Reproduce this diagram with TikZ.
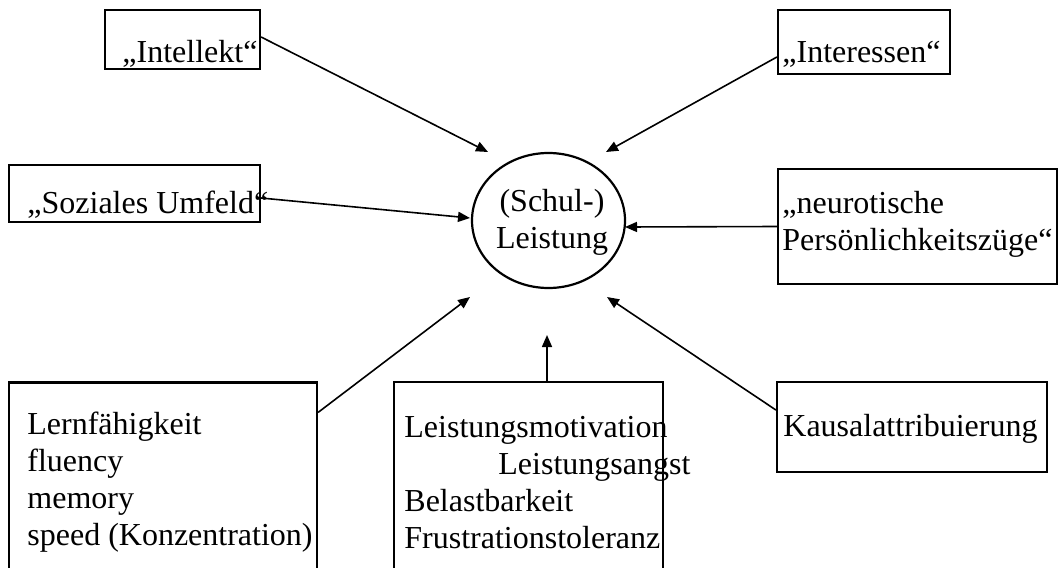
\documentclass[tikz,border=0pt]{standalone}
\usepackage{fontspec}
\setmainfont{Liberation Serif}
\usetikzlibrary{arrows.meta}
\begin{document}
\begin{tikzpicture}[x=0.5pt,y=-0.5pt,
  box/.style={draw, line width=1.1pt, inner sep=0pt, rectangle},
  txt/.style={anchor=base west, inner sep=0pt, align=left,
    font=\fontsize{16pt}{18.4pt}\selectfont},
  arr/.style={line width=0.8pt, -{Triangle[length=6pt,width=5pt]}}]
\clip (0,0) rectangle (1058,567);
\fill[white] (0,0) rectangle (1058,567);
% boxes
\node[box, minimum width=77.5pt, minimum height=29.5pt] (intel) at (182.5,39.5) {};
\node[box, minimum width=86pt, minimum height=32pt] (interest) at (864,42) {};
\node[box, minimum width=125.5pt, minimum height=28.5pt] (sozial) at (134.5,193.5) {};
\node[box, minimum width=139.5pt, minimum height=57.5pt] (neuro) at (917.5,226.5) {};
\node[box, minimum width=154pt, minimum height=108.5pt] (lernbox) at (163,491) {};
\node[box, minimum width=134.5pt, minimum height=109pt] (midbox) at (528.5,491) {};
\node[box, minimum width=135pt, minimum height=45pt] (kausal) at (912,427) {};
% centre ellipse
\draw[line width=1.1pt] (548.5,220.5) ellipse [x radius=76.5, y radius=67.5];
\node[txt, anchor=base, align=center] (leist) at (552,248) {(Schul-)\\Leistung};
% texts
\node[txt] (tintel) at (122,62) {„Intellekt“};
\node[txt] (tinter) at (782,63) {„Interessen“};
\node[txt] (tsoz) at (27,213) {„Soziales Umfeld“};
\node[txt] (tneuro) at (782,250) {„neurotische\\Persönlichkeitszüge“};
\node[txt] (tlern) at (27,545) {Lernfähigkeit\\fluency\\memory\\speed (Konzentration)};
\node[txt] (tmid) at (404,548) {Leistungsmotivation\\\hspace*{47pt}Leistungsangst\\Belastbarkeit\\Frustrationstoleranz};
\node[txt] (tkaus) at (783,436) {Kausalattribuierung};
% arrow tips
\coordinate (tI) at (488,152);
\coordinate (tR) at (606,152);
\coordinate (tS) at (470,218);
\coordinate (tN) at (625,227);
\coordinate (tL) at (470,297);
\coordinate (tM) at (547,335);
\coordinate (tK) at (607,297);
% arrows
\draw[arr] (intel.east) ++(0,-2.5) -- (tI);
\draw[arr] (interest.west) ++(0,15) -- (tR);
\draw[arr] (sozial.east) ++(0,4.5) -- (tS);
\draw[arr] (neuro.west) -- (tN);
\draw[arr] (lernbox.north east) ++(0,31) -- (tL);
\draw[arr] (tM |- midbox.north) -- (tM);
\draw[arr] (kausal.west) ++(0,-17) -- (tK);
\end{tikzpicture}
\end{document}
